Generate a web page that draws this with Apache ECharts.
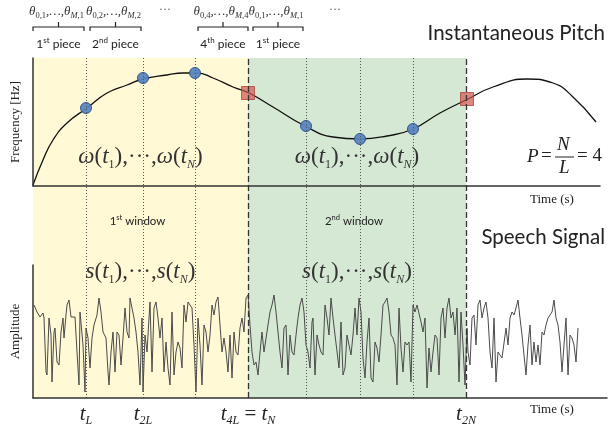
<!DOCTYPE html>
<html>
<head>
<meta charset="utf-8">
<script src="https://cdn.jsdelivr.net/npm/echarts@6/dist/echarts.min.js"></script>
<style>
html, body { margin: 0; padding: 0; background: #fff; }
#chart { width: 608px; height: 430px; }
</style>
</head>
<body>
<div id="chart"></div>
<script>
// time is in samples from the start of the frame
var windowEdges = [0, 215, 433];
var sampleTime = [53, 110, 162, 273, 327, 380];
var sampleFreq = [78, 108, 113, 60, 47, 57];
var edgeTime = [215, 434];
var edgeFreq = [93, 87];

var pitchTime = [0, 10, 20, 34, 54, 74, 94, 110, 134, 150, 164, 180, 200, 216, 240, 272, 300, 327, 354, 380, 407, 435, 460, 494, 520, 540, 563];
var pitchFreq = [1, 26, 46, 63, 78, 93, 101, 107, 111, 113, 113, 108, 99, 93, 79, 60, 49, 47, 50, 57, 73, 87, 99, 107, 103, 89, 64];

var speechTime = [1, 4, 5, 7, 10, 11, 13, 14, 16, 18, 19, 21, 22, 24, 26, 28, 30, 31, 33, 34, 36, 38, 40, 42, 44, 46, 47, 49, 50, 52,
  53, 55, 57, 59, 61, 64, 66, 68, 70, 73, 75, 76, 78, 80, 82, 84, 86, 88, 90, 92, 94, 96, 97, 99, 101, 103, 105, 107, 109, 110,
  112, 114, 116, 117, 119, 121, 123, 125, 127, 129, 131, 133, 135, 137, 139, 141, 143, 145, 147, 149, 151, 153, 155, 157, 159, 161, 163, 165, 167, 169,
  171, 173, 175, 177, 179, 181, 183, 185, 187, 189, 191, 193, 195, 197, 199, 201, 203, 205, 207, 209, 211, 213, 215, 217, 219, 221, 223, 225, 227, 229,
  231, 233, 235, 237, 239, 241, 243, 245, 247, 249, 251, 253, 255, 257, 259, 261, 263, 265, 267, 269, 271, 273, 275, 277, 279, 280, 282, 284, 286, 288,
  290, 292, 294, 296, 298, 300, 302, 304, 306, 308, 310, 312, 314, 316, 318, 320, 322, 324, 326, 328, 330, 332, 334, 336, 338, 340, 342, 344, 346, 348,
  350, 352, 354, 356, 358, 360, 362, 364, 366, 368, 370, 372, 374, 376, 378, 380, 382, 384, 386, 388, 390, 392, 394, 396, 398, 400, 402, 404, 406, 408,
  410, 412, 414, 416, 418, 420, 422, 424, 426, 428, 430, 432, 434, 435, 437, 439, 441, 443, 445, 447, 449, 451, 453, 455, 457, 459, 461, 463, 465, 467,
  469, 471, 473, 475, 477, 479, 481, 483, 485, 487, 489, 491, 493, 495, 497, 499, 501, 503, 505, 507, 509, 511, 513, 515, 517, 519, 521, 523, 525, 527,
  529, 531, 533, 535, 537, 539, 541, 543, 545];
var speechAmp = [35, 28, 27, 23, 27, 22, -32, -35, 22, 5, -42, 8, 12, -22, -25, 8, 22, 2, 25, 35, 40, 23, 22, 23, -12, -45, 28, 30, -5, -52,
  12, 2, -28, 2, 15, 25, 42, 28, 8, 2, -32, -45, -12, 8, -32, 8, 5, -25, 2, 32, 8, 2, 42, 32, 22, 8, -12, -45, 22, -52,
  5, -12, 22, 38, -32, 32, 38, 22, 2, 22, -32, -2, -28, -45, 28, -35, -12, -2, -8, -28, 35, 18, 38, 35, 32, -5, -52, 22, -5, -45,
  15, 8, -12, 5, 35, 25, 38, 43, 15, -12, 2, -12, -32, 5, -38, 8, -12, -15, 12, 22, 8, 42, 45, 15, -12, -25, -22, -35, -12, 8,
  -12, -12, 15, 28, 35, 45, 28, 8, -12, -28, 12, 15, -35, 5, -12, -15, 5, 22, 35, 42, 28, -5, -12, -28, 18, 22, -35, 5, -5, -12,
  -15, 35, 22, 5, 42, 22, 5, 5, -28, 18, -35, -28, 5, -5, -15, 5, 32, 5, 42, 28, -18, -38, -2, 22, -38, -42, -2, -8, -22, 5,
  35, 38, 42, 28, 5, 2, -5, -45, 32, -8, -32, -2, -5, -2, -42, 35, 28, 35, 37, 18, 8, 22, -48, -8, -32, -12, 5, 2, -35, 22,
  32, 2, 32, 42, 22, 28, 5, 32, -42, 28, -5, -45, 12, -12, -25, 22, 25, -5, 35, 40, 22, 32, 38, 22, -12, -28, 22, -42, -12, -12,
  -18, -18, 12, -5, 22, 28, 25, 32, 40, 22, 5, 5, -35, -5, 15, -25, -2, -22, -5, -25, 8, 5, 15, 22, 25, 28, 40, 22, 15, -2,
  -32, -5, 22, -35, 5, 2, -5, -22, 12];

var tickTime = [53, 110, 215, 433];
var tickText = ['{t|t}{s|L}', '{t|t}{s|2L}', '{t|t}{s|4L}{e| = }{t|t}{s|N}', '{t|t}{s|2N}'];

var pieceStart = [0, 57, 165, 220];
var pieceEnd = [51, 108, 215, 270];
var pieceIndex = ['1', '2', '4', '1'];
var pieceOrdinal = ['st', 'nd', 'th', 'st'];
var skipTime = [132, 302];
var windowOrdinal = ['st', 'nd'];

var SERIF = 'Liberation Serif';
var SANS = 'Lato';

var chart = echarts.init(document.getElementById('chart'));

function zip(a, b) {
    return a.map(function (v, i) { return [v, b[i]]; });
}

var mathRich = {
    i: { fontFamily: SERIF, fontStyle: 'italic', fontSize: 23, lineHeight: 28, fill: '#333' },
    u: { fontFamily: SERIF, fontSize: 23, lineHeight: 28, fill: '#333' },
    s: { fontFamily: SERIF, fontSize: 12, verticalAlign: 'bottom', fill: '#333' },
    si: { fontFamily: SERIF, fontStyle: 'italic', fontSize: 12, verticalAlign: 'bottom', fill: '#333' }
};

function renderPiece(params, api) {
    var i = params.dataIndex;
    var x0 = api.coord([api.value(0), 1])[0];
    var x1 = api.coord([api.value(1), 1])[0];
    var top = api.coord([0, 1])[1];
    var mid = (x0 + x1) / 2;
    var y = top - 31;
    var k = pieceIndex[i];
    return {
        type: 'group',
        children: [
            { type: 'polyline', shape: { points: [[x0, y + 4], [x0, y], [x1, y], [x1, y + 4]] },
              style: { stroke: '#222', lineWidth: 1.2, fill: null } },
            { type: 'line', shape: { x1: mid, y1: y, x2: mid, y2: y - 5 }, style: { stroke: '#222', lineWidth: 1.2 } },
            { type: 'text', x: mid - 2, y: top - 46,
              style: { text: '{th|θ}{sb|0,' + k + '}{th|,…,θ}{sbi|M}{sb|,' + k + '}', align: 'center', verticalAlign: 'middle',
                rich: {
                    th: { fontFamily: SERIF, fontStyle: 'italic', fontSize: 13, lineHeight: 16, fill: '#333' },
                    sb: { fontFamily: SERIF, fontSize: 8.5, verticalAlign: 'bottom', fill: '#333' },
                    sbi: { fontFamily: SERIF, fontStyle: 'italic', fontSize: 8.5, verticalAlign: 'bottom', fill: '#333' }
                } } },
            { type: 'text', x: mid, y: top - 14,
              style: { text: '{n|' + k + '}{o|' + pieceOrdinal[i] + '}{n| piece}', align: 'center', verticalAlign: 'middle',
                rich: {
                    n: { fontFamily: SANS, fontSize: 12, lineHeight: 15, fill: '#222' },
                    o: { fontFamily: SANS, fontSize: 8, verticalAlign: 'top', fill: '#222' }
                } } }
        ]
    };
}

function renderSkip(params, api) {
    var p = api.coord([api.value(0), 1]);
    return { type: 'text', x: p[0], y: p[1] - 48,
             style: { text: '···', fontFamily: SERIF, fontSize: 12, fill: '#555', align: 'center', verticalAlign: 'middle' } };
}

function renderWindow(params, api) {
    var i = params.dataIndex;
    var x0 = api.coord([api.value(0), 1])[0];
    var x1 = api.coord([api.value(1), 1])[0];
    var top = api.coord([0, 1])[1];
    var mid = (x0 + x1) / 2;
    return {
        type: 'group',
        children: [
            { type: 'text', x: mid, y: top + 99,
              style: { text: '{i|ω}{u|(}{i|t}{s|1}{u|),···,}{i|ω}{u|(}{i|t}{si|N}{u|)}', align: 'center', verticalAlign: 'middle', rich: mathRich } },
            { type: 'text', x: mid - 3, y: top + 163,
              style: { text: '{n|' + (i + 1) + '}{o|' + windowOrdinal[i] + '}{n| window}', align: 'center', verticalAlign: 'middle',
                rich: {
                    n: { fontFamily: SANS, fontSize: 11.5, lineHeight: 15, fill: '#222' },
                    o: { fontFamily: SANS, fontSize: 7.5, verticalAlign: 'top', fill: '#222' }
                } } },
            { type: 'text', x: mid, y: top + 214,
              style: { text: '{i|s}{u|(}{i|t}{s|1}{u|),···,}{i|s}{u|(}{i|t}{si|N}{u|)}', align: 'center', verticalAlign: 'middle', rich: mathRich } }
        ]
    };
}

var axisLine = { show: true, onZero: false, lineStyle: { color: '#333', width: 1.5 } };

var option = {
    animation: false,
    grid: [
        { left: 33, top: 58, width: 574, height: 340 },
        { left: 33, top: 58, width: 567, height: 128 },
        { left: 33, top: 265, width: 574, height: 133 }
    ],
    xAxis: [
        { type: 'value', gridIndex: 0, min: 0, max: 574, show: false },
        { type: 'value', gridIndex: 1, min: 0, max: 567, z: 10, axisLine: axisLine,
          axisTick: { show: false }, axisLabel: { show: false }, splitLine: { show: false } },
        { type: 'value', gridIndex: 2, min: 0, max: 574, z: 10, axisLine: axisLine,
          axisTick: { show: false }, splitLine: { show: false },
          axisLabel: {
              customValues: tickTime, margin: 3,
              formatter: function (v) { return tickText[tickTime.indexOf(v)]; },
              rich: {
                  t: { fontFamily: SERIF, fontStyle: 'italic', fontSize: 21, lineHeight: 26, color: '#222' },
                  e: { fontFamily: SERIF, fontSize: 21, lineHeight: 26, color: '#222' },
                  s: { fontFamily: SERIF, fontStyle: 'italic', fontSize: 12, verticalAlign: 'bottom', color: '#222' }
              }
          } }
    ],
    yAxis: [
        { type: 'value', gridIndex: 0, min: 0, max: 1, show: false },
        { type: 'value', gridIndex: 1, min: 0, max: 128, z: 10, axisLine: axisLine,
          axisTick: { show: false }, axisLabel: { show: false }, splitLine: { show: false },
          name: 'Frequency [Hz]', nameLocation: 'middle', nameRotate: 90, nameGap: 11,
          nameTextStyle: { fontFamily: SERIF, fontSize: 13, color: '#222' } },
        { type: 'value', gridIndex: 2, min: -58, max: 75, z: 10, axisLine: axisLine,
          axisTick: { show: false }, axisLabel: { show: false }, splitLine: { show: false },
          name: 'Amplitude', nameLocation: 'middle', nameRotate: 90, nameGap: 11,
          nameTextStyle: { fontFamily: SERIF, fontSize: 13, color: '#222' } }
    ],
    series: [
        {
            type: 'line', xAxisIndex: 0, yAxisIndex: 0, data: [], z: 0,
            markArea: {
                silent: true,
                data: [
                    [{ xAxis: windowEdges[0], itemStyle: { color: '#FFF9D6' } }, { xAxis: windowEdges[1] }],
                    [{ xAxis: windowEdges[1], itemStyle: { color: '#D5E8D4' } }, { xAxis: windowEdges[2] }]
                ]
            },
            markLine: {
                silent: true, symbol: 'none', label: { show: false },
                data: sampleTime.map(function (t) {
                    return { xAxis: t, lineStyle: { color: '#555', width: 1, type: [1, 2] } };
                }).concat(windowEdges.slice(1).map(function (t) {
                    return { xAxis: t, lineStyle: { color: '#333', width: 1.3, type: [6, 3] } };
                }))
            }
        },
        {
            type: 'line', xAxisIndex: 2, yAxisIndex: 2, data: zip(speechTime, speechAmp),
            showSymbol: false, lineStyle: { color: '#4a4a4a', width: 1 }, z: 3
        },
        {
            type: 'line', xAxisIndex: 1, yAxisIndex: 1, data: zip(pitchTime, pitchFreq),
            smooth: 0.5, showSymbol: false, lineStyle: { color: '#111', width: 1.3 }, z: 3
        },
        {
            type: 'scatter', xAxisIndex: 1, yAxisIndex: 1, data: zip(sampleTime, sampleFreq),
            symbol: 'circle', symbolSize: 11, z: 4,
            itemStyle: { color: '#5B86C0', borderColor: '#2E5288', borderWidth: 1, opacity: 0.95 }
        },
        {
            type: 'scatter', xAxisIndex: 1, yAxisIndex: 1, data: zip(edgeTime, edgeFreq),
            symbol: 'rect', symbolSize: 13, z: 4,
            itemStyle: { color: 'rgba(205,80,76,0.85)', borderColor: '#B0403C', borderWidth: 1 }
        },
        {
            type: 'custom', xAxisIndex: 0, yAxisIndex: 0, renderItem: renderPiece,
            data: zip(pieceStart, pieceEnd), z: 5, silent: true
        },
        {
            type: 'custom', xAxisIndex: 0, yAxisIndex: 0, renderItem: renderSkip,
            data: skipTime.map(function (t) { return [t]; }), z: 5, silent: true
        },
        {
            type: 'custom', xAxisIndex: 0, yAxisIndex: 0, renderItem: renderWindow,
            data: zip(windowEdges.slice(0, 2), windowEdges.slice(1)), z: 5, silent: true
        }
    ],
    graphic: [
        { type: 'text', right: 3, top: 23, style: { text: 'Instantaneous Pitch', fontFamily: SANS, fontSize: 20.5, fill: '#222' } },
        { type: 'text', right: 3, top: 227, style: { text: 'Speech Signal', fontFamily: SANS, fontSize: 20.5, fill: '#222' } },
        { type: 'text', left: 530, top: 193, style: { text: 'Time (s)', fontFamily: SERIF, fontSize: 13, fill: '#222' } },
        { type: 'text', left: 530, top: 403, style: { text: 'Time (s)', fontFamily: SERIF, fontSize: 13, fill: '#222' } },
        { type: 'text', left: 527, top: 147, style: { text: 'P', fontFamily: SERIF, fontStyle: 'italic', fontSize: 19, fill: '#222' } },
        { type: 'text', left: 541, top: 147, style: { text: '=', fontFamily: SERIF, fontSize: 19, fill: '#222' } },
        { type: 'text', left: 557, top: 135, style: { text: 'N', fontFamily: SERIF, fontStyle: 'italic', fontSize: 19, fill: '#222' } },
        { type: 'line', shape: { x1: 555, y1: 157, x2: 574, y2: 157 }, style: { stroke: '#222', lineWidth: 1 } },
        { type: 'text', left: 559, top: 158, style: { text: 'L', fontFamily: SERIF, fontStyle: 'italic', fontSize: 19, fill: '#222' } },
        { type: 'text', left: 577, top: 147, style: { text: '= 4', fontFamily: SERIF, fontSize: 19, fill: '#222' } }
    ]
};

chart.setOption(option);
</script>
</body>
</html>
